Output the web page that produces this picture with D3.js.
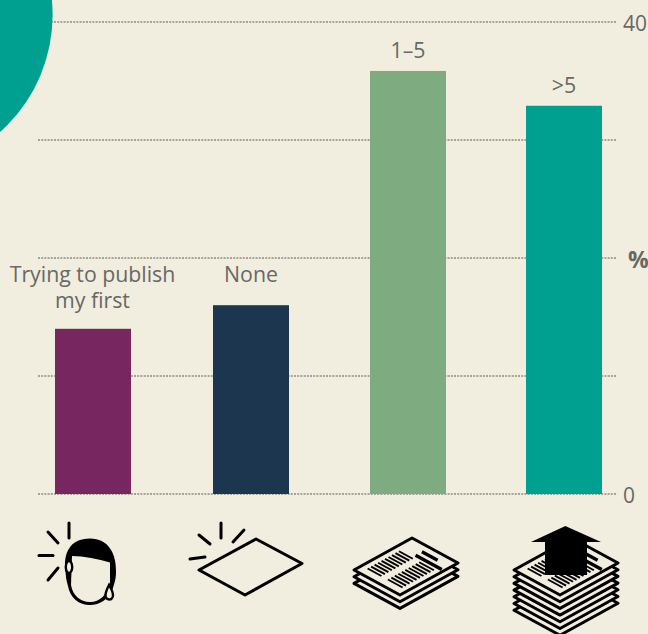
<!DOCTYPE html>
<html>
<head>
<meta charset="utf-8">
<script src="https://cdn.jsdelivr.net/npm/d3@7"></script>
<style>
html,body{margin:0;padding:0;background:#f1eedf;overflow:hidden}
svg{display:block}
text{font-family:"Open Sans",sans-serif;fill:#686864}
</style>
</head>
<body>
<svg id="c" width="648" height="634"></svg>
<script>
const categories = ["Trying to publish|my first", "None", "1–5", ">5"];
const values = [14, 16, 35.85, 32.9];
const barColors = ["#77265f", "#1c3650", "#7fab80", "#00a090"];
const tickValues = [0, 10, 20, 30, 40];
const labelledTicks = [0, 40];
const axisTitle = "%";

const svg = d3.select("#c");
const bg = "#f1eedf";
const y = d3.scaleLinear().domain([0, 40]).range([494, 22]);
const x = d3.scaleOrdinal().domain(categories).range([55, 213, 370, 526]);
const barW = 76;

// grid + axis
const axis = d3.axisRight(y).tickValues(tickValues).tickSize(579).tickPadding(6).offset(0)
  .tickFormat(d => labelledTicks.includes(d) ? d : "");
const gAxis = svg.append("g").attr("transform", "translate(38,0)").call(axis);
gAxis.select(".domain").remove();
gAxis.selectAll("line").attr("stroke", "#8a8a83").attr("stroke-width", 1.5).attr("stroke-dasharray", "2 1.2");
gAxis.selectAll("text").attr("font-size", 21).attr("fill", "#686864").attr("dy", "9px");

// decorative circle
svg.append("circle").attr("cx", -104).attr("cy", 15).attr("r", 156.6).attr("fill", "#00a090");

// bars
svg.selectAll("rect.bar").data(categories).join("rect").attr("class", "bar")
  .attr("x", d => x(d)).attr("width", barW)
  .attr("y", (d, i) => y(values[i])).attr("height", (d, i) => y(0) - y(values[i]))
  .attr("fill", (d, i) => barColors[i]);

// labels
const labelGap = [21, 23, 13, 13];
categories.forEach((c, i) => {
  const parts = c.split("|");
  const cx = x(c) + barW / 2 - (i === 0 ? 0.5 : 0);
  const lineH = 26;
  const base = y(values[i]) - labelGap[i];
  const t = svg.append("text").attr("text-anchor", "middle").attr("font-size", 21.3);
  parts.forEach((p, j) => {
    t.append("tspan").attr("x", cx)
      .attr("y", base - (parts.length - 1 - j) * lineH).text(p);
  });
});

svg.append("text").attr("x", 628).attr("y", 268).attr("font-size", 23)
  .attr("font-weight", 700).text(axisTitle);

// icons
const black = "#000";
const line = d3.line();
function seg(a, b, w = 3) {
  svg.append("path").attr("d", line([a, b])).attr("stroke", black)
    .attr("stroke-width", w).attr("fill", "none").attr("stroke-linecap", "round");
}
function poly(pts, opts = {}) {
  svg.append("path").attr("d", line(pts) + "Z").attr("stroke", opts.stroke || black)
    .attr("stroke-width", opts.w ?? 3).attr("fill", opts.fill || bg).attr("stroke-linejoin", "round");
}

// icon 1: head
[[[69, 523], [69, 538]], [[48, 532], [58, 543]], [[39, 555.5], [53, 555.5]], [[58, 568], [48, 580]]]
  .forEach(s => seg(s[0], s[1]));
svg.append("path").attr("fill", black).attr("d",
  "M65.500,572 C63,553 70,538.500 90,538.500 C108,538.500 116.500,553 116,572 C116,580 114,584 113,588 C109,599 100,605 90,605 C79,605 70,598 68,586 C66,580 66,576 65.500,572Z");
svg.append("path").attr("fill", bg).attr("d",
  "M72,556 C84,556 98,559 110,562.500 L110,582 C107,595 100,602 90,602 C80,602 72.500,595 71,585 Z");
svg.append("ellipse").attr("cx", 69).attr("cy", 567).attr("rx", 3.2).attr("ry", 6)
  .attr("fill", bg).attr("stroke", black).attr("stroke-width", 2.4);
svg.append("path").attr("fill", bg).attr("stroke", black).attr("stroke-width", 2.4)
  .attr("d", "M109,585 C112,590 113,593 113,595 C113,598 111,599.500 109.500,599.500 C107,599.500 105.500,598 105.500,595 C105.500,592 107,589 109,585Z");

// icon 2: blank sheet
[[[221, 523], [221, 538]], [[244, 530], [233, 542]], [[199, 535], [210, 544]], [[190, 559], [205, 557]]]
  .forEach(s => seg(s[0], s[1]));
poly([[256, 539], [302, 563.500], [245, 595], [199, 570]]);

// icons 3 and 4: paper stacks
const sheet = (dx, dy) => [[412 + dx, 538 + dy], [458 + dx, 563 + dy], [400 + dx, 595 + dy], [354 + dx, 570 + dy]];
function stack(dx, n) {
  for (let k = n - 1; k >= 0; k--) poly(sheet(dx, k * 6.7));
  const L = [354 + dx, 570], U = [58, -32], V = [46, 25];
  const P = (u, v) => [L[0] + u * U[0] + v * V[0], L[1] + u * U[1] + v * V[1]];
  [[0.14, 0.68, 0.12, 0.42], [0.14, 0.68, 0.56, 0.88]].forEach(b => {
    // text-line blocks: rows run along V, stacked along U
    for (let t = 0; t < 10; t++) {
      const u = b[0] + (b[1] - b[0]) * t / 9;
      svg.append("path").attr("d", line([P(u, b[2]), P(u, b[3])]))
        .attr("stroke", black).attr("stroke-width", 1.9);
    }
  });
  // headline bars
  [[0.76, 0.38, 0.95], [0.87, 0.38, 0.72]].forEach(b => {
    svg.append("path").attr("d", line([P(b[0], b[1]), P(b[0], b[2])]))
      .attr("stroke", black).attr("stroke-width", 3.4);
  });
}
stack(0, 3);
stack(160, 7);
// arrow
svg.append("path").attr("fill", black).attr("d", line([
  [565.3, 526], [601, 542], [587, 542], [587, 575], [545, 575], [545, 542], [531, 542]
]) + "Z");
</script>
</body>
</html>
